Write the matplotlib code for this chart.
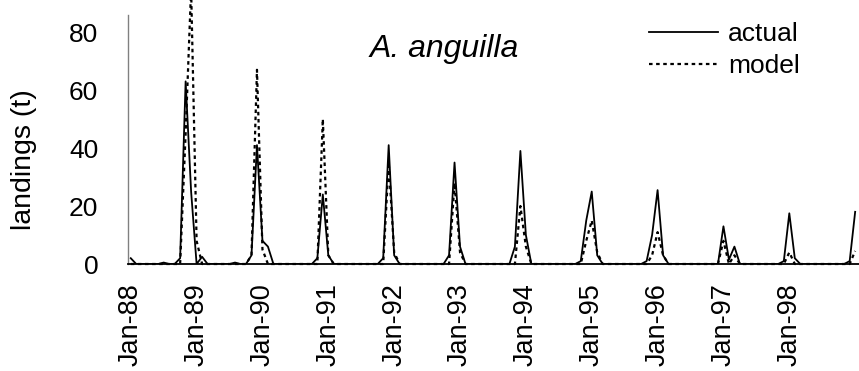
from matplotlib import pyplot as plt
import numpy as np

# Monthly landings (t), Jan-88 .. Jan-99, one row per year (Jan..Dec)
actual = [
	2, 0, 0, 0, 0, 0, 0.5, 0, 0, 2, 63, 25,        # 1988
	0, 2.5, 0, 0, 0, 0, 0, 0.5, 0, 0, 3, 41,       # 1989
	8, 6, 0, 0, 0, 0, 0, 0, 0, 0, 2, 24,           # 1990
	3, 0, 0, 0, 0, 0, 0, 0, 0, 0, 2, 41,           # 1991
	3, 0, 0, 0, 0, 0, 0, 0, 0, 0, 3, 35,           # 1992
	6, 0, 0, 0, 0, 0, 0, 0, 0, 0, 6, 39,           # 1993
	10, 0, 0, 0, 0, 0, 0, 0, 0, 0, 1, 15,          # 1994
	25, 3, 0, 0, 0, 0, 0, 0, 0, 0, 1, 10,          # 1995
	25.5, 3, 0, 0, 0, 0, 0, 0, 0, 0, 0, 0,         # 1996
	13, 1.5, 6, 0, 0, 0, 0, 0, 0, 0, 0, 1,         # 1997
	17.5, 2, 0, 0, 0, 0, 0, 0, 0, 0, 0, 1,         # 1998
	18,                                            # 1999
]

model = [
	0, 0, 0, 0, 0, 0, 0, 0, 0, 0, 45, 95,          # 1988
	8, 0, 0, 0, 0, 0, 0, 0, 0, 0, 3, 67,           # 1989
	5, 0, 0, 0, 0, 0, 0, 0, 0, 0, 0, 50,           # 1990
	3, 0, 0, 0, 0, 0, 0, 0, 0, 0, 0, 35,           # 1991
	4, 0, 0, 0, 0, 0, 0, 0, 0, 0, 0, 28,           # 1992
	4, 0, 0, 0, 0, 0, 0, 0, 0, 0, 0, 20,           # 1993
	6, 0, 0, 0, 0, 0, 0, 0, 0, 0, 0, 8,            # 1994
	15, 4, 0, 0, 0, 0, 0, 0, 0, 0, 0, 3,           # 1995
	11, 3, 0, 0, 0, 0, 0, 0, 0, 0, 0, 0,           # 1996
	8, 0, 3, 0, 0, 0, 0, 0, 0, 0, 0, 0,            # 1997
	4, 0, 0, 0, 0, 0, 0, 0, 0, 0, 0, 0,            # 1998
	4.5,                                           # 1999
]

tickLabels = ["Jan-88", "Jan-89", "Jan-90", "Jan-91", "Jan-92", "Jan-93",
	"Jan-94", "Jan-95", "Jan-96", "Jan-97", "Jan-98"]
yTicks = [0, 20, 40, 60, 80]

plt.rcParams['font.family'] = ['Liberation Sans', 'DejaVu Sans']

months = np.arange(len(actual))

fig = plt.figure(figsize=(8.59, 3.71), dpi=100)
ax = fig.add_axes([128/859, 1 - 264/371, 1 - 128/859, (264 - 15)/371])

ax.plot(months, actual, color='black', linewidth=1.3, label='actual')
ax.plot(months, model, color='black', linewidth=1.6, linestyle=(0, (1.6, 1.6)),
	label='model', clip_on=False)

ax.set_xlim(-0.5, 132.7)
ax.set_ylim(0, 85.9)

ax.set_xticks(np.arange(len(tickLabels)) * 12)
ax.set_xticklabels(tickLabels, rotation=90, fontsize=19.5)
ax.set_yticks(yTicks)
ax.set_yticklabels([str(v) for v in yTicks], fontsize=19)
ax.tick_params(axis='x', length=0, pad=13.5)
ax.tick_params(axis='y', length=0, pad=21.5)

for side in ['top', 'right']:
	ax.spines[side].set_visible(False)
ax.spines['left'].set_color('#808080')
ax.spines['left'].set_linewidth(1.0)
ax.spines['bottom'].set_color('black')
ax.spines['bottom'].set_linewidth(1.3)

ax.set_ylabel("landings (t)", fontsize=20.5)
ax.yaxis.set_label_coords(-0.1245, 0.418)

ax.text(0.331, 0.831, "A. anguilla", transform=ax.transAxes, fontsize=23,
	style='italic', ha='left', va='baseline')

ax.legend(loc='upper left', bbox_to_anchor=(649/859, 1 - 22/371),
	bbox_transform=fig.transFigure, frameon=False, fontsize=19,
	handlelength=2.6, handletextpad=0.4, labelspacing=0.3, borderpad=0,
	borderaxespad=0)

fig.savefig("out.png", dpi=100)
